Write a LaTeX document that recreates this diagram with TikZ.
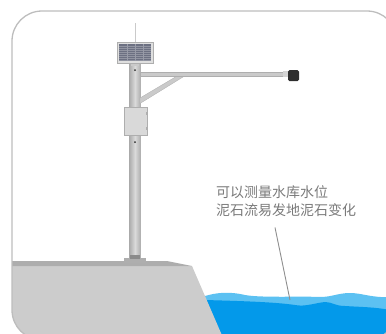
\documentclass[tikz,border=0pt]{standalone}
\usepackage{fontspec}
\newfontfamily\cjk{Noto Sans CJK SC}
\usepackage{tikz}
\usetikzlibrary{positioning}

\definecolor{frameline}{HTML}{BDBDBD}
\definecolor{polegray}{HTML}{CACACA}
\definecolor{poleedge}{HTML}{AEAEAE}
\definecolor{groundgray}{HTML}{CCCCCC}
\definecolor{grounddark}{HTML}{ADADAD}
\definecolor{panelblue}{HTML}{6C7082}
\definecolor{camblack}{HTML}{2E2E2E}
\definecolor{wavelight}{HTML}{5CC1F2}
\definecolor{wavedark}{HTML}{0399EA}
\definecolor{notegray}{HTML}{7A7A7A}

\tikzset{
  metal/.style={fill=polegray, draw=poleedge, line width=0.3pt},
  note/.style={font=\cjk\fontsize{14}{18}\selectfont, text=notegray, align=left, inner sep=0pt},
  leader/.style={draw=notegray!85, line width=0.9pt},
}

\begin{document}
\begin{tikzpicture}[x=1pt,y=-1pt]
   \useasboundingbox (0,0) rectangle (386,333);

   \begin{scope}
   \clip[rounded corners=30pt] (12,11) rectangle (397,340);
   % water
   \fill[wavelight] (205,296) .. controls (215,293) and (228,291) .. (245,295)
      .. controls (262,298) and (300,296) .. (320,297)
      .. controls (332,297) and (338,293) .. (350,293)
      .. controls (362,293) and (372,298) .. (390,297) -- (390,340) -- (205,340) -- cycle;
   \fill[wavedark] (205,300) .. controls (240,301) and (275,302) .. (295,305)
      .. controls (305,307) and (315,303) .. (325,302)
      .. controls (332,302) and (335,306) .. (345,306)
      .. controls (360,307) and (375,307) .. (390,310) -- (390,340) -- (205,340) -- cycle;
   % ground
   \fill[groundgray] (0,266) -- (192,266) -- (224,340) -- (0,340) -- cycle;
   \fill[grounddark] (0,261) -- (167,261) -- (192,266) -- (0,266) -- cycle;
   \end{scope}

   % pole and antenna
   \draw[polegray, line width=1pt] (135,23) -- (135,43);
   \shade[left color=poleedge, right color=poleedge, middle color=polegray!70] (129.5,63) rectangle (140.5,261);
   \fill[poleedge] (124,258) rectangle (146,262.5);
   \fill[poleedge!80!black] (130,255) rectangle (140,259);

   % arm, strut and camera
   \fill[metal] (140,98) -- (140,103.5) -- (183,77) -- (177,76) -- cycle;
   \fill[metal] (140,72) rectangle (284,76.5);
   \fill[polegray!80] (283,71) rectangle (289,77);
   \fill[camblack, rounded corners=1.5pt] (288,70) rectangle (299,81);

   % solar panel
   \fill[polegray] (131,61) rectangle (139,66);
   \filldraw[fill=gray!25, draw=poleedge] (117,42) rectangle (153,63);
   \fill[panelblue] (119,44) rectangle (151,61);
   \foreach \y in {46,48,...,60}
      \draw[white!25!panelblue, line width=0.2pt] (119,\y) -- (151,\y);
   \foreach \x in {127,135,143}
      \draw[white!30!panelblue, line width=0.3pt] (\x,44) -- (\x,61);

   % control box
   \filldraw[fill=gray!30, draw=poleedge, line width=0.4pt] (124,107) rectangle (147,135);
   \fill[poleedge] (146,112) rectangle (148,115);
   \fill[poleedge] (146,127) rectangle (148,130);
   \fill[camblack] (135,70) circle (1pt);
   \fill[camblack] (135,142) circle (1pt);

   % note with leader line
   \node[note, anchor=north west] (txt) at (216,185) {可以测量水库水位\\泥石流易发地泥石变化};
   \coordinate (lead) at ([xshift=59pt,yshift=-11pt]txt.south west);
   \coordinate (tip) at (290,300);
   \draw[leader] (lead) -- (tip);

   % frame
   \draw[frameline, line width=1.3pt, rounded corners=30pt] (12,11) rectangle (397,340);
\end{tikzpicture}
\end{document}
